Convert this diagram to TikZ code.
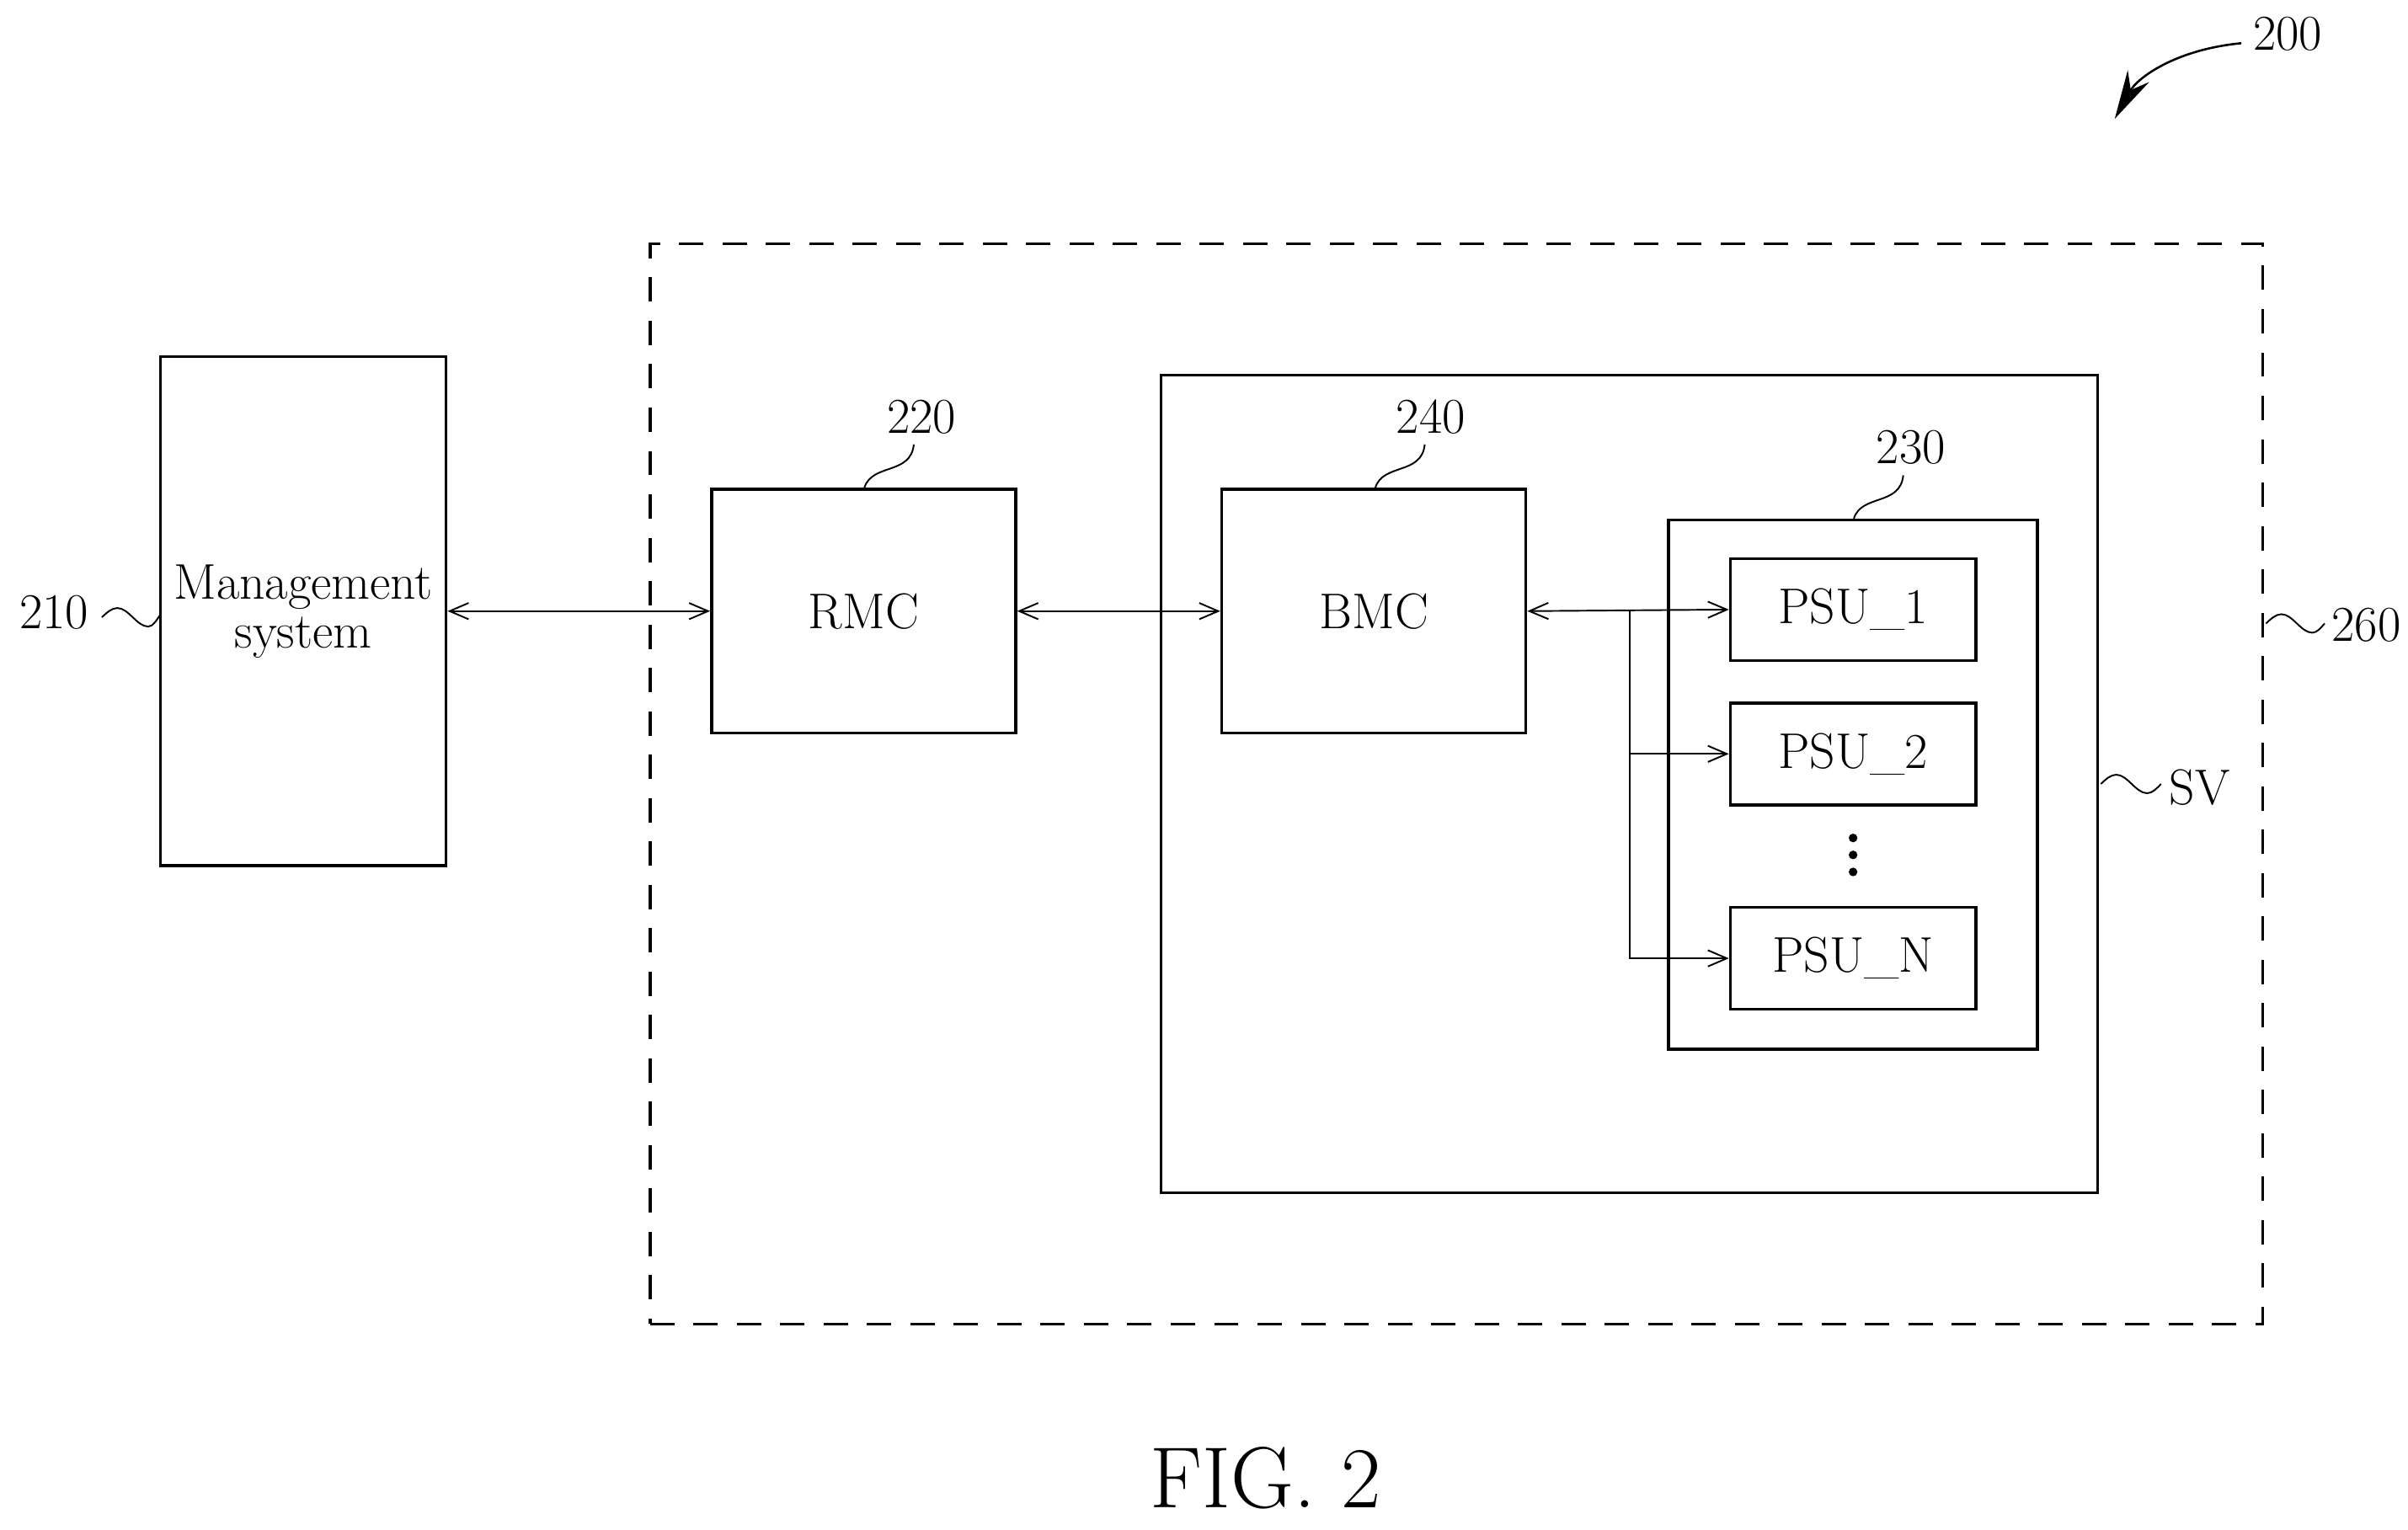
\documentclass[tikz,border=0pt]{standalone}
\usetikzlibrary{arrows.meta}
\begin{document}
\begin{tikzpicture}[x=0.02cm,y=-0.02cm,
  box/.style={draw,line width=1.1pt,inner sep=0pt,font=\fontsize{18.5}{20}\selectfont},
  lab/.style={font=\fontsize{18.5}{20}\selectfont},
  con/.style={line width=0.6pt,{Straight Barb[length=7pt,width=6pt]}-{Straight Barb[length=7pt,width=6pt]}},
  con1/.style={line width=0.6pt,-{Straight Barb[length=7pt,width=6pt]}},
  sq/.style={line width=0.6pt}]
\useasboundingbox (0,0) rectangle (1560,991);
\node[box,minimum width=20.9cm,minimum height=14cm,dash pattern=on 9pt off 7pt] (dash) at (943.5,508) {};
\node[box,minimum width=3.7cm,minimum height=6.6cm,align=center] (mg) at (196.5,396) {Management\\[-2pt]system};
\node[box,minimum width=3.94cm,minimum height=3.16cm] (rmc) at (559.5,396) {RMC};
\node[box,minimum width=12.14cm,minimum height=10.6cm] (sv) at (1055.5,508) {};
\node[box,minimum width=3.94cm,minimum height=3.16cm] (bmc) at (890,396) {BMC};
\node[box,minimum width=4.78cm,minimum height=6.86cm] (grp) at (1200.5,508.5) {};
\node[box,minimum width=3.18cm,minimum height=1.32cm] (p1) at (1200.5,395) {PSU\_1};
\node[box,minimum width=3.18cm,minimum height=1.32cm] (p2) at (1200.5,488.5) {PSU\_2};
\node[box,minimum width=3.18cm,minimum height=1.32cm] (pn) at (1200.5,621) {PSU\_N};
\foreach \yy in {543,554,565} \fill (1200.5,\yy) circle (1.6pt);
\draw[con] (mg.east |- rmc.west) -- (rmc.west);
\draw[con] (rmc.east) -- (bmc.west);
\draw[con] (bmc.east) -- (p1.west);
\coordinate (br) at (1056,396);
\draw[con1] (br) |- (p2.west);
\draw[con1] (br) |- (pn.west);
% labels
\node[lab] (l210) at (35,397) {210};
\draw[sq] (66,400) sin (76,394) cos (86,400) sin (96,406) cos (104,398);
\node[lab] (l220) at (597,270) {220};
\draw[sq] (560,316) .. controls (565,300) and (590,308) .. (592,288);
\node[lab] (l240) at (927,270) {240};
\draw[sq] (891,316) .. controls (896,300) and (921,308) .. (923,288);
\node[lab] (l230) at (1238,290) {230};
\draw[sq] (1201,336) .. controls (1206,320) and (1231,328) .. (1233,308);
\node[lab] (l260) at (1533,405) {260};
\draw[sq] (1468,404) sin (1478,398) cos (1488,404) sin (1498,410) cos (1506,404);
\node[lab] (lsv) at (1425,510) {SV};
\draw[sq] (1361,508) sin (1371,502) cos (1381,508) sin (1391,514) cos (1400,508);
\node[lab] (l200) at (1482,22) {200};
\draw[line width=0.8pt,-{Stealth[length=18pt,width=9pt]}] (1452,28) .. controls (1410,32) and (1385,50) .. (1370,77);
\node[font=\fontsize{32}{36}\selectfont] (fig) at (820,958) {FIG. 2};
\end{tikzpicture}
\end{document}
